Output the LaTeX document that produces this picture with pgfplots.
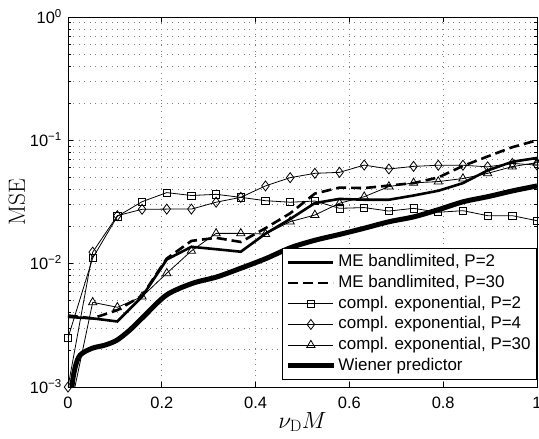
\RequirePackage{fix-cm}
\documentclass[border=0pt]{standalone}
\usepackage{fontspec}
\newfontfamily\arial{Liberation Sans}
\usepackage{pgfplots}
\pgfplotsset{compat=1.18}
\begin{document}
\begin{tikzpicture}
\begin{axis}[
  scale only axis, width=469bp, height=370bp,
  ymode=log, xmin=0, xmax=1, ymin=1e-3, ymax=1,
  xtick={0,0.2,0.4,0.6,0.8,1}, xticklabels={0,0.2,0.4,0.6,0.8,1},
  ytick={1e-3,1e-2,1e-1,1},
  yticklabels={10\textsuperscript{−3},10\textsuperscript{−2},10\textsuperscript{−1},10\textsuperscript{0}},
  ticklabel style={font=\arial\fontsize{16.5}{19}\selectfont, inner sep=0pt},
  xticklabel style={anchor=base, yshift=-21bp},
  yticklabel style={anchor=base east, xshift=-6bp, yshift=-6bp},
  major tick length=5bp, minor tick length=3bp,
  every tick/.style={black, line width=0.7bp},
  axis line style={line width=0.9bp},
  xmajorgrids, ymajorgrids, yminorgrids,
  major grid style={black!50, line width=0.8bp, dash pattern=on 1bp off 4.5bp},
  minor grid style={black!50, line width=0.8bp, dash pattern=on 1bp off 4.5bp},
  xlabel={\fontsize{23.5}{28}\selectfont $\nu_{\mathrm{D}}M$},
  xlabel style={at={(axis description cs:0.5,-0.1108)}, anchor=base, inner sep=0pt},
  ylabel={\fontsize{23.5}{28}\selectfont MSE},
  ylabel style={at={(axis description cs:-0.0917,0.5)}, anchor=base, inner sep=0pt},
  legend style={at={(axis description cs:1,0.019)}, anchor=south east,
    font=\arial\fontsize{17}{20}\selectfont, draw=black, line width=0.8bp,
    inner xsep=3.5bp, inner ysep=3.4bp, row sep=0pt,
    nodes={inner xsep=2.5bp, inner ysep=2.15bp, text height=12.6bp, text depth=3.8bp},
    /tikz/every even column/.append style={column sep=0pt}},
  legend cell align=left,
  legend image code/.code={\draw[mark repeat=2,mark phase=2,#1] plot coordinates {(0bp,0bp) (22.5bp,0bp) (45bp,0bp)};},
]
\addplot[black, line width=2.6bp] coordinates {
(0,0.0037)(0.05263,0.0036)(0.10526,0.0034)(0.15789,0.0054)(0.21053,0.0108)(0.26316,0.0137)(0.31579,0.0131)(0.36842,0.0125)(0.42105,0.0175)(0.47368,0.023)(0.52632,0.031)(0.57895,0.0335)(0.63158,0.033)(0.68421,0.033)(0.73684,0.0357)(0.78947,0.039)(0.84211,0.045)(0.89474,0.057)(0.94737,0.067)(1,0.072)};
\addlegendentry{ME bandlimited, P=2}
\addplot[black, line width=2.6bp, dash pattern=on 10bp off 5bp] coordinates {
(0,0.0038)(0.05263,0.0036)(0.10526,0.0042)(0.15789,0.0055)(0.21053,0.011)(0.26316,0.0153)(0.31579,0.0162)(0.36842,0.0150)(0.42105,0.0194)(0.47368,0.0256)(0.52632,0.037)(0.57895,0.0414)(0.63158,0.041)(0.68421,0.043)(0.73684,0.045)(0.78947,0.050)(0.84211,0.062)(0.89474,0.074)(0.94737,0.088)(1,0.100)};
\addlegendentry{ME bandlimited, P=30}
\addplot[black, line width=0.8bp, mark=square, mark size=3.6bp, mark options={solid, fill=none}] coordinates {
(0,0.0025)(0.05263,0.0111)(0.10526,0.0242)(0.15789,0.0318)(0.21053,0.0377)(0.26316,0.0357)(0.31579,0.0365)(0.36842,0.0345)(0.42105,0.0324)(0.47368,0.0315)(0.52632,0.0322)(0.57895,0.0281)(0.63158,0.0285)(0.68421,0.0267)(0.73684,0.0281)(0.78947,0.0261)(0.84211,0.0269)(0.89474,0.0245)(0.94737,0.0245)(1,0.0223)};
\addlegendentry{compl. exponential, P=2}
\addplot[black, line width=0.8bp, mark=diamond, mark size=5bp, mark options={solid, fill=none}] coordinates {
(0,0.001)(0.05263,0.0124)(0.10526,0.0245)(0.15789,0.0276)(0.21053,0.0277)(0.26316,0.0277)(0.31579,0.0315)(0.36842,0.0345)(0.42105,0.0427)(0.47368,0.0498)(0.52632,0.054)(0.57895,0.055)(0.63158,0.063)(0.68421,0.0586)(0.73684,0.0615)(0.78947,0.0628)(0.84211,0.0628)(0.89474,0.061)(0.94737,0.065)(1,0.063)};
\addlegendentry{compl. exponential, P=4}
\addplot[black, line width=0.8bp, forget plot] coordinates {(0,0.00054)(0.05263,0.00486)};
\addplot[black, line width=0.8bp, mark=triangle, mark size=4.8bp, mark options={solid, fill=none}] coordinates {
(0.05263,0.00486)(0.10526,0.00443)(0.15789,0.0054)(0.21053,0.00836)(0.26316,0.0127)(0.31579,0.0176)(0.36842,0.0176)(0.42105,0.0174)(0.47368,0.0219)(0.52632,0.0248)(0.57895,0.0309)(0.63158,0.0349)(0.68421,0.0422)(0.73684,0.0452)(0.78947,0.0463)(0.84211,0.049)(0.89474,0.054)(0.94737,0.0612)(1,0.066)};
\addlegendentry{compl. exponential, P=30}
\addplot[black, line width=5bp, smooth, tension=0.5] coordinates {
(0.003,0.0004)(0.0085,0.001)(0.0156,0.00146)(0.0262,0.00182)(0.0512,0.00206)(0.0795,0.00219)(0.1045,0.0024)(0.132,0.0029)(0.1606,0.0037)(0.2100,0.00557)(0.2655,0.00693)(0.317,0.0078)(0.369,0.0092)(0.422,0.0110)(0.475,0.0135)(0.527,0.0155)(0.580,0.0173)(0.632,0.0194)(0.685,0.0219)(0.738,0.024)(0.791,0.0275)(0.843,0.0318)(0.896,0.035)(0.949,0.039)(1,0.0427)};
\addlegendentry{Wiener predictor}
\end{axis}
\pgfresetboundingbox
\path (current axis.south west) ++(-68bp,-52bp) rectangle ++(539bp,439bp);
\end{tikzpicture}
\end{document}
